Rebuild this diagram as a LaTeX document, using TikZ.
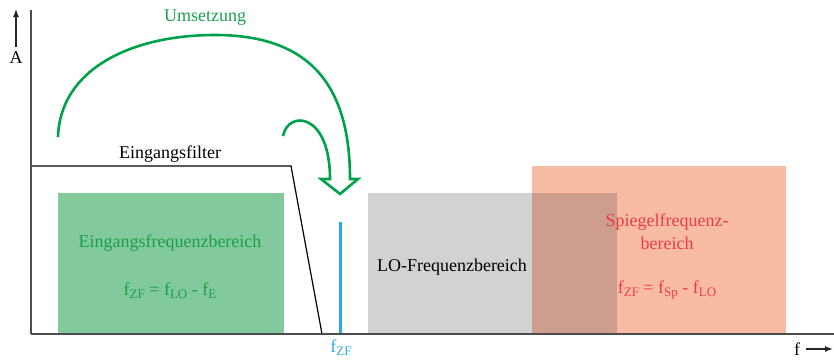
\documentclass[tikz,border=0pt]{standalone}
\usepackage{fontspec}
\setmainfont{Liberation Serif}
\usetikzlibrary{arrows.meta}
\definecolor{axisgray}{HTML}{4D4D4D}
\definecolor{arcgreen}{HTML}{00A14B}
\definecolor{txtgreen}{HTML}{1A9E50}
\definecolor{boxgreen}{HTML}{82C99B}
\definecolor{boxgray}{HTML}{D1D2D4}
\definecolor{boxsalmon}{HTML}{F8BCA5}
\definecolor{boxoverlap}{HTML}{CD9E8D}
\definecolor{txtred}{HTML}{EE3A43}
\definecolor{ifblue}{HTML}{29ABE2}
\newcommand\lowsub[1]{\raisebox{-0.35ex}{\fontsize{13}{14}\selectfont #1}}
\tikzset{
  lbl/.style={inner sep=0pt, font=\fontsize{18}{21}\selectfont},
  axis/.style={draw=axisgray, line width=2pt},
  dirarrow/.style={draw=black!85, line width=1.4pt, -{Latex[length=8pt,width=6pt]}},
}
\begin{document}
\begin{tikzpicture}[x=1pt,y=-1pt]
\useasboundingbox (0,0) rectangle (834,359);

% frequency bands
\fill[boxgreen] (58,193) rectangle (284,334);
\fill[boxgray] (368,193) rectangle (617,334);
\fill[boxsalmon] (532,166) rectangle (786,334);
\fill[boxoverlap] (532,193) rectangle (617,334);

\node[lbl, text=txtgreen] (inlabel) at (170,243) {Eingangsfrequenzbereich};
\node[lbl, text=txtgreen] (inform) at (170,291) {f\lowsub{ZF} = f\lowsub{LO} - f\lowsub{E}};
\node[lbl, text=black] (lolabel) at (452,267) {LO-Frequenzbereich};
\node[lbl, text=txtred] (splabel1) at (667,222) {Spiegelfrequenz-};
\node[lbl, text=txtred] (splabel2) at (667,243) {bereich};
\node[lbl, text=txtred] (spform) at (667,290) {f\lowsub{ZF} = f\lowsub{Sp} - f\lowsub{LO}};

% input filter characteristic
\coordinate (f0) at (31,166);
\coordinate (f1) at (291,166);
\coordinate (f2) at (322,334);
\draw[black, line width=1.2pt, line join=miter] (f0) -- (f1) -- (f2);
\node[lbl] (filterlabel) at (170,154) {Eingangsfilter};

% intermediate frequency line
\coordinate (ifTop) at (340,222);
\coordinate (ifBot) at (340,334);
\draw[ifblue, line width=3pt] (ifTop) -- (ifBot);
\node[lbl, text=ifblue] (iflabel) at (341,348) {f\lowsub{ZF}};

% axes
\coordinate (origin) at (31,334);
\coordinate (yend) at (31,10);
\coordinate (xend) at (834,334);
\draw[axisgray, line width=1.6pt] (origin) -- (yend);
\draw[axis] (origin) -- (xend);

\coordinate (aFrom) at (16,47);
\coordinate (aTo) at (16,9);
\draw[dirarrow] (aFrom) -- (aTo);
\node[lbl] (alabel) at (16,58) {A};

\coordinate (fFrom) at (806,349);
\coordinate (fTo) at (833,349);
\draw[dirarrow] (fFrom) -- (fTo);
\node[lbl] (flabel) at (797,349) {f};

% conversion arrow (hollow outline)
\coordinate (bigStart) at (58,137);
\coordinate (bigTop) at (215,35);
\coordinate (bigEnd) at (350,179);
\coordinate (smallStart) at (283,136);
\coordinate (smallEnd) at (330,179);
\draw[arcgreen, line width=2.6pt, line join=miter]
  (bigStart) .. controls (60,70) and (130,35) .. (bigTop)
             .. controls (305,35) and (350,80) .. (bigEnd)
  -- (358,179) -- (340,194) -- (321,179) -- (smallEnd)
  .. controls (330,112) and (288,110) .. (smallStart);
\node[lbl, text=txtgreen] (convlabel) at (205,18) {Umsetzung};
\end{tikzpicture}
\end{document}
